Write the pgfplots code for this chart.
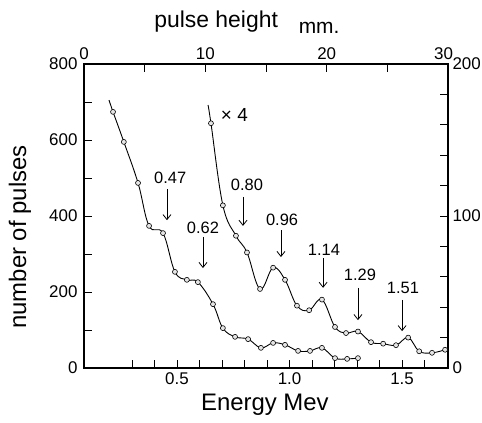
\documentclass[border=0pt]{standalone}
\usepackage{fontspec}
\setmainfont{Liberation Sans}
\usepackage{pgfplots}
\usepackage{pgfplotstable}
\pgfplotsset{compat=1.18}
\usetikzlibrary{arrows.meta}

\pgfplotstableread{
E C
0.216 674
0.264 595
0.327 487
0.376 374
0.438 355
0.491 253
0.544 232
0.593 226
0.660 168
0.704 105
0.758 82
0.816 76
0.873 53
0.927 66
0.980 61
1.038 45
1.091 45
1.144 53
1.202 26
1.256 24
1.304 26
}\lowdata

\pgfplotstableread{
E R
0.651 161
0.704 107
0.762 87
0.811 76
0.869 52
0.927 66
0.980 58
1.033 41
1.087 38
1.144 45
1.202 27
1.251 23
1.304 24
1.362 17
1.416 16
1.473 15
1.527 20
1.576 11
1.633 10
1.691 12
}\updata

\newcommand{\tkfont}{\fontsize{17}{17}\selectfont}
\tikzset{
  lab/.style={font=\fontsize{16.5}{16.5}\selectfont, inner sep=0pt},
  arr/.style={line width=0.8pt, -{Straight Barb[length=5bp,width=8bp]}},
}

\begin{document}
\begin{tikzpicture}
\useasboundingbox (-84bp,-55bp) rectangle (398bp,368bp);
\pgfplotsset{
  every axis/.append style={
    scale only axis, width=364bp, height=304bp, at={(0bp,0bp)}, anchor=south west,
    tick align=inside, major tick length=8bp, minor tick length=8bp,
    every tick/.style={black, line width=0.8pt},
    every minor tick/.style={black, line width=0.8pt},
    axis line style={line width=1.1pt},
    /pgf/number format/assume math mode=true,
    clip=false,
  },
  curve/.style={black, line width=0.9pt, smooth, tension=0.65, no marks},
  pts/.style={only marks, mark=*, mark size=2.5pt, mark options={fill=gray!20, draw=black, line width=0.6pt}},
}
% main axis: energy vs number of pulses
\begin{axis}[
  xmin=0.087, xmax=1.704, ymin=0, ymax=800,
  xtick={0.5,1.0,1.5}, xticklabels={0.5,1.0,1.5},
  minor xtick={0.3,0.4,0.6,0.7,0.8,0.9,1.1,1.2,1.3,1.4,1.6},
  ytick={0,200,400,600,800}, yticklabels={0,200,400,600,800},
  minor ytick={100,300,500,700},
  xtick pos=bottom, ytick pos=left,
  xticklabel style={font=\tkfont, yshift=-1bp},
  yticklabel style={font=\tkfont, xshift=-3bp},
]
\addplot[curve] coordinates {(0.198,705) (0.216,674) (0.264,595) (0.327,487) (0.376,374) (0.438,355) (0.491,253) (0.544,232) (0.593,226) (0.660,168) (0.704,105) (0.758,82) (0.816,76) (0.873,53) (0.927,66) (0.980,61) (1.038,45) (1.091,45) (1.144,53) (1.202,26) (1.256,24) (1.304,26)};
\addplot[pts] table[x=E, y=C] {\lowdata};

\draw[arr] (axis cs:0.4556,471) -- (axis cs:0.4556,389);
\node[lab] at (axis cs:0.47,500) {0.47};
\draw[arr] (axis cs:0.6156,345) -- (axis cs:0.6156,263);
\node[lab] at (axis cs:0.6156,368) {0.62};
\draw[arr] (axis cs:0.7933,450) -- (axis cs:0.7933,374);
\node[lab] at (axis cs:0.811,482) {0.80};
\draw[arr] (axis cs:0.962,363) -- (axis cs:0.962,292);
\node[lab] at (axis cs:0.967,389) {0.96};
\draw[arr] (axis cs:1.149,289) -- (axis cs:1.149,211);
\node[lab] at (axis cs:1.153,311) {1.14};
\draw[arr] (axis cs:1.304,211) -- (axis cs:1.304,126);
\node[lab] at (axis cs:1.313,245) {1.29};
\draw[arr] (axis cs:1.50,179) -- (axis cs:1.50,97);
\node[lab] at (axis cs:1.504,211) {1.51};
\node[font=\fontsize{19}{19}\selectfont] at (axis cs:0.755,666) {× 4};

\node[font=\fontsize{24}{24}\selectfont, rotate=90] at (rel axis cs:-0.176,0.431) {number of pulses};
\node[font=\fontsize{24}{24}\selectfont] at (rel axis cs:0.497,-0.122) {Energy Mev};
\node[font=\fontsize{23}{23}\selectfont] at (rel axis cs:0.363,1.138) {pulse height};
\node[font=\fontsize{21}{21}\selectfont] at (rel axis cs:0.646,1.12) {mm.};
\end{axis}

% right axis: x4 curve
\begin{axis}[
  xmin=0.087, xmax=1.704, ymin=0, ymax=200,
  axis x line=none, axis y line*=right,
  ytick={0,100,200}, yticklabels={0,100,{\raisebox{-3bp}{200}}},
  minor ytick={20,40,60,80,120,140,160,180},
  yticklabel style={font=\tkfont, xshift=1bp},
]
\addplot[curve] coordinates {(0.638,173) (0.651,161) (0.704,107) (0.762,87) (0.811,76) (0.869,52) (0.927,66) (0.980,58) (1.033,41) (1.087,38) (1.144,45) (1.202,27) (1.251,23) (1.304,24) (1.362,17) (1.416,16) (1.473,15) (1.527,20) (1.576,11) (1.633,10) (1.691,12)};
\addplot[pts] table[x=E, y=R] {\updata};
\end{axis}

% top axis: pulse height
\begin{axis}[
  xmin=0, xmax=30, ymin=0, ymax=1,
  axis y line=none, axis x line*=top,
  xtick={0,10,20,30}, xticklabels={0,10,20,{30\kern9bp}},
  minor xtick={5,15,25},
  xticklabel style={font=\tkfont, yshift=1bp},
]
\end{axis}
\end{tikzpicture}
\end{document}
